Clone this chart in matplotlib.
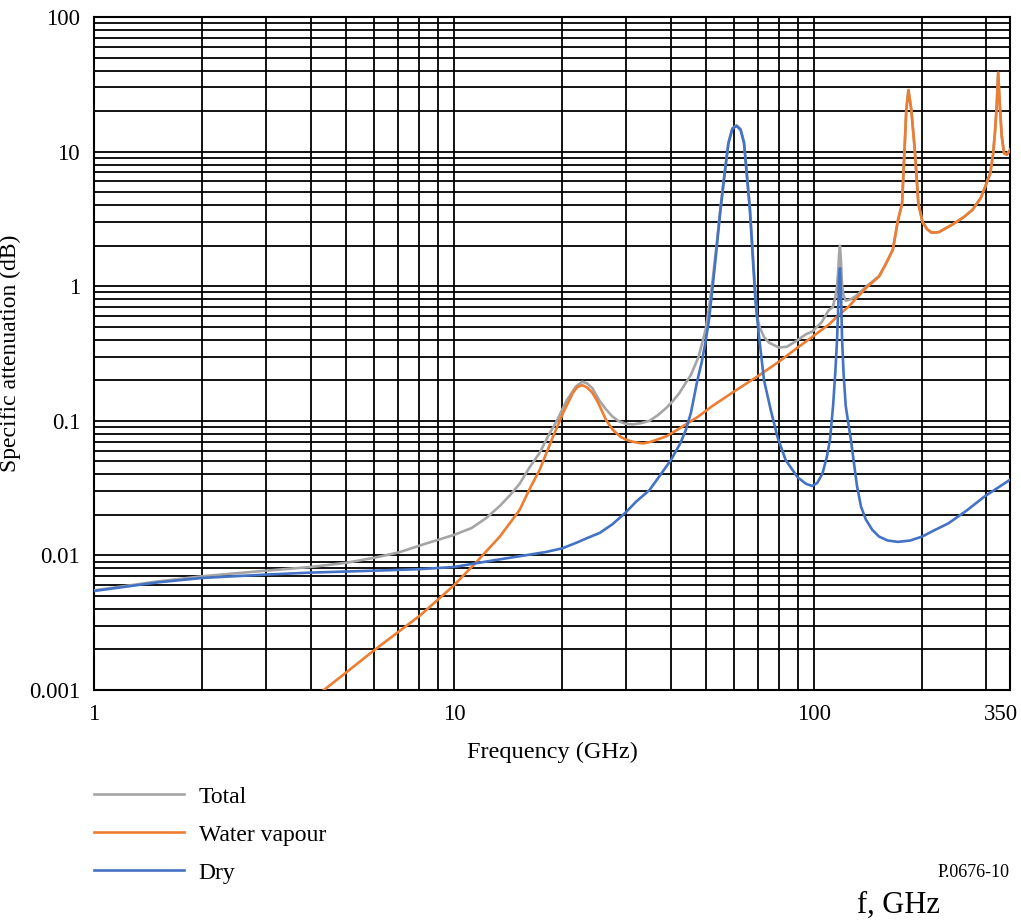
import matplotlib
matplotlib.use("Agg")
import matplotlib.pyplot as plt
import matplotlib.transforms as mtransforms
from matplotlib.ticker import LogLocator, NullFormatter, FixedLocator, FixedFormatter

# --------------------------------------------------------------
# Data
# --------------------------------------------------------------
dry_freq = [1.0, 1.5, 2.0, 3.0, 4.0, 6.0, 8.0, 10.0, 12.9, 15.0, 18.0, 20.0, 22.0,
            23.5, 25.4, 27.5, 29.9, 32.0, 34.9, 37.5, 40.0, 42.5, 44.0, 45.5, 47.4,
            48.7, 49.9, 51.0, 52.3, 53.7, 54.9, 56.3, 57.8, 59.3, 60.9, 62.5, 63.9,
            65.1, 66.3, 67.1, 67.9, 68.8, 70.2, 72.6, 75.8, 79.2, 83.4, 90.0, 95.0,
            98.8, 102.0, 105.5, 108.5, 110.7, 112.9, 114.5, 115.8, 116.7, 117.3, 118.0,
            118.7, 119.6, 120.7, 122.4, 126.5, 131.5, 135.0, 139.2, 145.0, 151.5,
            160.0, 171.0, 185.0, 199.5, 215.0, 236.0, 265.0, 298.0, 325.0, 350.0]
dry_val = [0.00544, 0.0063, 0.0068, 0.0072, 0.00745, 0.0077, 0.0079, 0.0082, 0.0092,
           0.0098, 0.0106, 0.0113, 0.0125, 0.0135, 0.0147, 0.017, 0.0207, 0.025,
           0.0306, 0.04, 0.051, 0.068, 0.085, 0.115, 0.2, 0.27, 0.38, 0.55, 1.0, 2.0,
           3.6, 6.5, 11.5, 14.8, 15.5, 14.5, 11.5, 6.5, 3.7, 2.2, 1.3, 0.75, 0.44, 0.2,
           0.12, 0.075, 0.051, 0.038, 0.034, 0.0328, 0.0345, 0.0406, 0.054, 0.0725,
           0.129, 0.228, 0.40, 0.71, 1.15, 1.36, 0.94, 0.40, 0.228, 0.129, 0.0725,
           0.033, 0.023, 0.0185, 0.0155, 0.0138, 0.0129, 0.0126, 0.0129, 0.0138,
           0.0153, 0.0173, 0.0215, 0.0275, 0.032, 0.0365]

wv_freq = [4.0, 4.35, 5.0, 5.98, 7.0, 8.07, 10.0, 11.57, 13.4, 15.2, 16.2, 17.3,
           18.85, 19.5, 20.1, 21.4, 22.0, 22.7, 23.4, 24.2, 25.0, 25.4, 26.5, 27.6,
           29.0, 30.0, 31.3, 32.7, 33.5, 35.0, 38.9, 42.2, 47.8, 52.0, 59.3, 70.2,
           79.9, 90.0, 98.8, 110.0, 117.0, 125.0, 131.0, 140.0, 151.5, 158.0, 165.4,
           171.0, 175.5, 178.3, 180.3, 182.8, 186.2, 190.4, 194.8, 200.0, 206.0,
           212.0, 222.0, 242.0, 260.0, 275.0, 290.0, 298.0, 308.5, 314.0, 318.0,
           321.5, 324.5, 328.0, 332.0, 337.0, 343.0, 350.0]
wv_val = [0.00084, 0.001, 0.00134, 0.00196, 0.0027, 0.0036, 0.006, 0.009, 0.0138,
          0.0217, 0.031, 0.0434, 0.0767, 0.095, 0.115, 0.162, 0.178, 0.184, 0.177,
          0.162, 0.14, 0.128, 0.1, 0.0857, 0.076, 0.0725, 0.07, 0.0684, 0.068,
          0.0695, 0.0767, 0.0875, 0.108, 0.128, 0.162, 0.217, 0.275, 0.35, 0.42, 0.52,
          0.61, 0.71, 0.815, 0.98, 1.18, 1.45, 1.86, 3.1, 4.1, 10.3, 20.4, 28.6, 20.4,
          10.3, 4.1, 3.0, 2.65, 2.5, 2.52, 2.87, 3.25, 3.68, 4.5, 5.4, 6.9, 9.5, 14.0,
          22.0, 38.5, 22.0, 13.0, 9.7, 9.5, 10.3]

total_freq = [1.0, 1.5, 2.0, 3.0, 4.0, 5.0, 6.0, 7.0, 8.4, 10.0, 11.2, 12.3, 13.4,
              14.3, 15.2, 16.2, 17.3, 18.3, 19.3, 20.5, 21.8, 22.7, 23.4, 24.2, 25.4,
              26.4, 27.5, 28.7, 30.0, 31.3, 33.0, 34.9, 36.8, 38.9, 40.5, 42.2, 45.5,
              47.8, 50.0, 51.0, 52.3, 53.7, 54.9, 56.3, 57.8, 59.3, 60.9, 62.5, 63.9,
              65.1, 66.3, 67.1, 67.9, 68.8, 69.4, 70.5, 72.6, 75.0, 79.9, 84.0, 89.0,
              95.0, 98.8, 105.0, 109.6, 112.7, 114.5, 115.8, 116.7, 117.3, 118.0, 118.7,
              119.6, 120.7, 122.4, 126.5, 131.0, 140.0, 151.5, 158.0, 165.4, 171.0,
              175.5, 178.3, 180.3, 182.8, 186.2, 190.4, 194.8, 200.0, 206.0, 212.0,
              222.0, 242.0, 260.0, 275.0, 290.0, 298.0, 308.5, 314.0, 318.0, 321.5,
              324.5, 328.0, 332.0, 337.0, 343.0, 350.0]
total_val = [0.0055, 0.0064, 0.007, 0.0077, 0.0082, 0.0088, 0.0096, 0.0105, 0.0123,
             0.0142, 0.016, 0.019, 0.0233, 0.028, 0.034, 0.045, 0.058, 0.078, 0.1,
             0.14, 0.18, 0.195, 0.19, 0.175, 0.14, 0.122, 0.108, 0.099, 0.095, 0.094,
             0.096, 0.1, 0.11, 0.125, 0.14, 0.16, 0.22, 0.3, 0.48, 0.68, 1.13, 2.13,
             3.75, 6.65, 11.6, 14.9, 15.7, 14.7, 11.7, 6.7, 3.9, 2.4, 1.45, 0.85, 0.6,
             0.5, 0.42, 0.38, 0.35, 0.355, 0.39, 0.44, 0.46, 0.54, 0.66, 0.70, 0.83,
             1.0, 1.32, 1.7, 2.0, 1.55, 1.02, 0.86, 0.78, 0.8, 0.85, 1.0, 1.19, 1.46,
             1.87, 3.1, 4.1, 10.3, 20.4, 28.6, 20.4, 10.3, 4.1, 3.0, 2.65, 2.5, 2.52,
             2.87, 3.25, 3.68, 4.5, 5.4, 6.9, 9.5, 14.0, 22.0, 38.5, 22.0, 13.0, 9.7,
             9.5, 10.3]

x_ticks = [1, 10, 100, 350]
x_tick_labels = ["1", "10", "100", "350"]
y_ticks = [0.001, 0.01, 0.1, 1, 10, 100]
y_tick_labels = ["0.001", "0.01", "0.1", "1", "10", "100"]

# --------------------------------------------------------------
# Plot
# --------------------------------------------------------------
plt.rcParams["font.family"] = ["Liberation Serif", "DejaVu Serif"]

fig = plt.figure(figsize=(10.21, 9.21), dpi=100)
ax = fig.add_axes([94 / 1021, 1 - 690 / 921, (1010 - 94) / 1021, (690 - 17) / 921])

lw = 1.9
l_total, = ax.plot(total_freq, total_val, color="#A5A5A5", lw=lw, label="Total", zorder=3)
l_wv, = ax.plot(wv_freq, wv_val, color="#ED7D31", lw=lw, label="Water vapour", zorder=4)
l_dry, = ax.plot(dry_freq, dry_val, color="#4472C4", lw=lw, label="Dry", zorder=5)

ax.set_xscale("log")
ax.set_yscale("log")
ax.set_xlim(1, 350)
ax.set_ylim(0.001, 100)

ax.xaxis.set_major_locator(FixedLocator(x_ticks))
ax.xaxis.set_major_formatter(FixedFormatter(x_tick_labels))
ax.xaxis.set_minor_locator(LogLocator(base=10, subs=range(2, 10)))
ax.xaxis.set_minor_formatter(NullFormatter())
ax.yaxis.set_major_locator(FixedLocator(y_ticks))
ax.yaxis.set_major_formatter(FixedFormatter(y_tick_labels))
ax.yaxis.set_minor_locator(LogLocator(base=10, subs=range(2, 10)))
ax.yaxis.set_minor_formatter(NullFormatter())

ax.grid(True, which="both", color="black", lw=1.3)
ax.tick_params(which="both", length=0, labelsize=16.5)
ax.tick_params(axis="x", pad=10)
ax.tick_params(axis="y", pad=10)
for s in ax.spines.values():
    s.set_color("black")
    s.set_linewidth(1.5)

# keep "350" inside the figure edge
fig.canvas.draw()
last = ax.get_xticklabels()[-1]
last.set_transform(last.get_transform() + mtransforms.ScaledTranslation(-9 / 100, 0, fig.dpi_scale_trans))

ax.set_xlabel("Frequency (GHz)", fontsize=17.5, labelpad=12)
ax.set_ylabel("Specific attenuation (dB)", fontsize=17, labelpad=6)

fig.legend(handles=[l_total, l_wv, l_dry], loc="upper left",
           bbox_to_anchor=(94 / 1021, 1 - 786 / 921), frameon=False,
           fontsize=17, handlelength=3.8, handletextpad=0.64, labelspacing=0.7,
           borderpad=0, borderaxespad=0)

fig.text(1010 / 1021, 1 - 872 / 921, "P.0676-10", ha="right", va="center", fontsize=13)
fig.text(898 / 1021, 1 - 905 / 921, "f, GHz", ha="center", va="center", fontsize=22)

fig.savefig("out.png", dpi=100)
